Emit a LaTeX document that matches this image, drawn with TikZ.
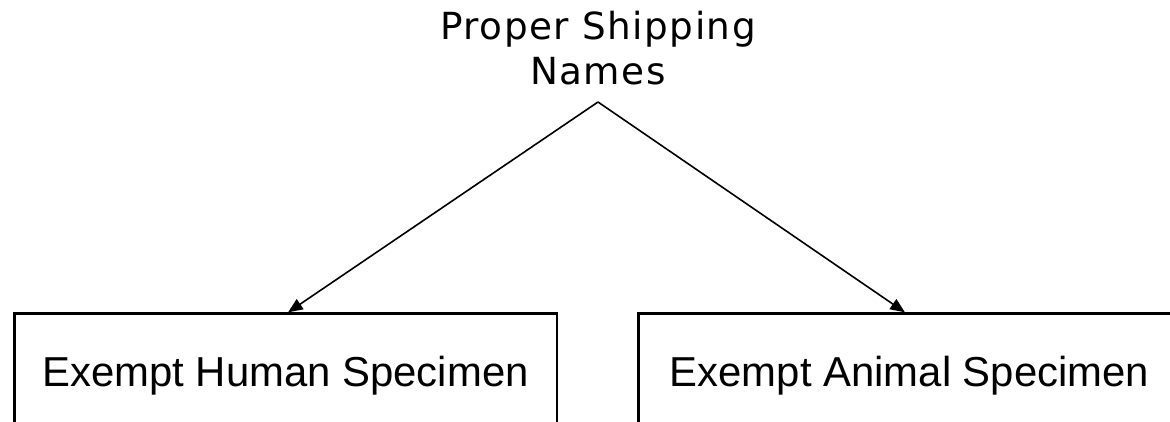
\documentclass[tikz,border=0pt]{standalone}
\usepackage{fontspec}
\setmainfont{Liberation Sans}
\newfontfamily\titlefont[LetterSpace=4]{DejaVu Sans}
\usetikzlibrary{arrows.meta}

\begin{document}
\begin{tikzpicture}[x=0.75pt,y=-0.75pt]
	\clip (0,0) rectangle (1170,421);
	\node[align=center,font=\titlefont\fontsize{28}{33.75}\selectfont] (names) at (598,48) {Proper Shipping\\Names};
	\coordinate (apex) at (598,102);

	\begin{scope}[every node/.style={rectangle,draw,line width=2pt,minimum width=407pt,minimum height=93pt,font=\fontsize{31.4}{36}\selectfont}]
		\node (human) at (285.5,375.7) {Exempt Human Specimen};
		\node (animal) at (909.5,375.7) {Exempt Animal Specimen};
	\end{scope}

	\begin{scope}[>={Triangle[length=11pt,width=9pt]},line width=1.2pt]
		\draw[->] (apex) -- ([xshift=1.9pt]human.north);
		\draw[->] (apex) -- ([xshift=-3.4pt]animal.north);
	\end{scope}
\end{tikzpicture}
\end{document}
